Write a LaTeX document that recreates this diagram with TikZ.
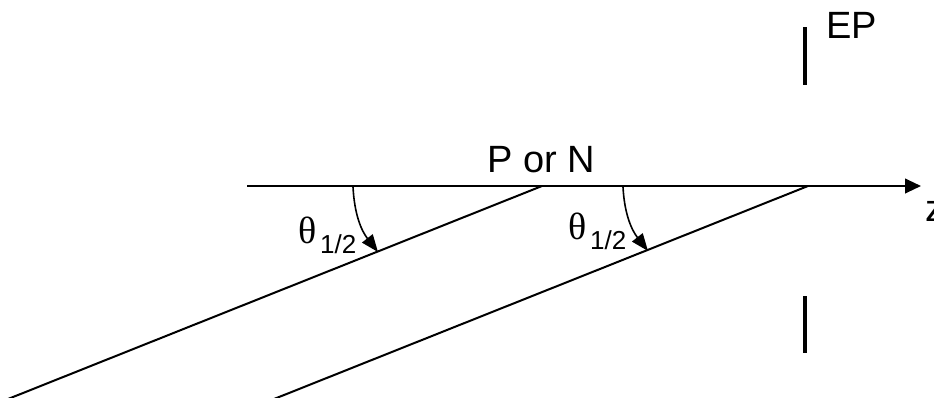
\documentclass[tikz,border=0pt]{standalone}
\usepackage{fontspec}
\setmainfont{Liberation Sans}
\newfontfamily\thetafont{Liberation Serif}
\usetikzlibrary{arrows.meta}
\begin{document}
\begin{tikzpicture}[x=0.75pt,y=-0.75pt,
  line width=1.5pt,
  lbl/.style={font=\fontsize{28.5}{30}\selectfont, inner sep=0pt, anchor=base west},
  sub/.style={font=\fontsize{19.5}{21}\selectfont, inner sep=0pt, anchor=base west},
  axisline/.style={line width=1.5pt, -{Triangle[length=12pt,width=11pt]}},
  beam/.style={line width=1.5pt},
  anglearrow/.style={line width=1.2pt, -{Triangle[length=13pt,width=10pt]}},
  bar/.style={line width=2.3pt}]
\useasboundingbox (0,0) rectangle (934,397);
% coordinates
\coordinate (axL) at (247,186);
\coordinate (axR) at (921,186);
\coordinate (p1) at (542,186);
\coordinate (p1e) at (5.5,400);
\coordinate (p2) at (808,186);
\coordinate (p2e) at (271.5,400);
\coordinate (a1s) at (353,187);
\coordinate (a1e) at (378,252);
\coordinate (a2s) at (623,187);
\coordinate (a2e) at (648,251);
\coordinate (ep1t) at (805,27);
\coordinate (ep1b) at (805,85);
\coordinate (ep2t) at (805,296);
\coordinate (ep2b) at (805,353);
% axis
\draw[axisline] (axL) -- (axR);
% beams
\draw[beam] (p1) -- (p1e);
\draw[beam] (p2) -- (p2e);
% angle arrows
\draw[anglearrow] (a1s) to[out=-87,in=128] (a1e);
\draw[anglearrow] (a2s) to[out=-87,in=128] (a2e);
% EP bars
\draw[bar] (ep1t) -- (ep1b);
\draw[bar] (ep2t) -- (ep2b);
% labels
\node[lbl, anchor=base] (pn) at (541,172) {P or N};
\node[lbl] (ep) at (825,38) {EP};
\node[lbl] (z) at (924,221) {z};
\node[lbl] (t1) at (297,243) {\thetafont θ};
\node[sub] (s1) at (t1.base east) [xshift=1.5pt, yshift=-7.5pt] {1/2};
\node[lbl] (t2) at (567,239) {\thetafont θ};
\node[sub] (s2) at (t2.base east) [xshift=1.5pt, yshift=-7.5pt] {1/2};
\end{tikzpicture}
\end{document}
